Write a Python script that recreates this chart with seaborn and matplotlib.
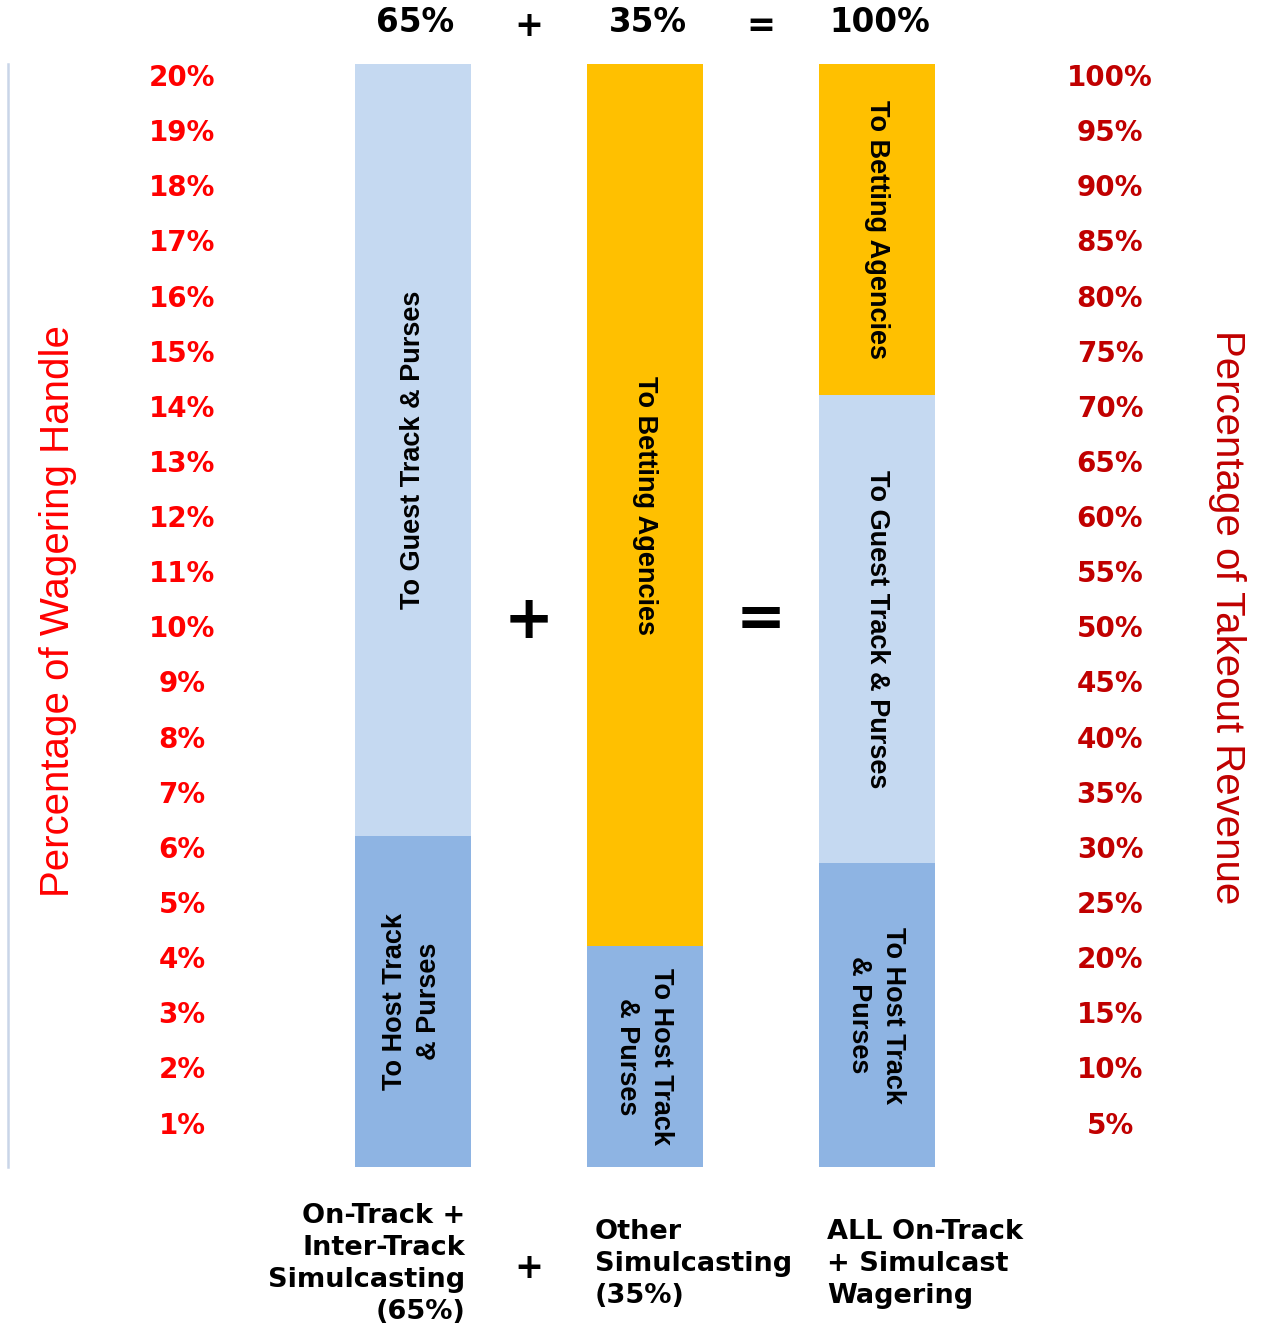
import matplotlib
matplotlib.use("Agg")
import matplotlib.pyplot as plt
import matplotlib.transforms as mtransforms
import pandas as pd
import seaborn as sns

# ---- data -------------------------------------------------------------
columns = ["On-Track + Inter-Track", "Other Simulcasting", "All Wagering"]

# share of wagering handle (left scale, %)
ontrack_segments = ["To Guest Track & Purses", "To Host Track\n& Purses"]
ontrack_values = [14, 6]          # top -> bottom
other_segments = ["To Betting Agencies", "To Host Track\n& Purses"]
other_values = [16, 4]

# share of takeout revenue (right scale, %)
all_segments = ["To Betting Agencies", "To Guest Track & Purses", "To Host Track\n& Purses"]
all_values = [30, 42.5, 27.5]

left_ticks = list(range(1, 21))
right_ticks = list(range(5, 101, 5))

top_labels = ["65%", "35%", "100%"]
bottom_labels = ["On-Track +\nInter-Track\nSimulcasting\n(65%)",
                 "Other\nSimulcasting\n(35%)",
                 "ALL On-Track\n+ Simulcast\nWagering"]

# ---- style --------------------------------------------------------------
sns.set_style("white")
plt.rcParams["text.color"] = "black"
LIGHT = "#C5D9F1"
MID = "#8EB4E3"
GOLD = "#FFC000"
seg_colors = {"To Guest Track & Purses": LIGHT,
              "To Host Track\n& Purses": MID,
              "To Betting Agencies": GOLD}

BOLD_WIDE = ["DejaVu Sans"]
NARROW = ["Liberation Sans", "DejaVu Sans"]
PLAIN = ["Liberation Sans", "DejaVu Sans"]

W, H = 1276, 1327
fig = plt.figure(figsize=(W / 100, H / 100), dpi=100)
ax = fig.add_axes([8 / W, (H - 1166.7) / H, (W - 8) / W, 1102.7 / H])
ax2 = ax.twinx()


def stack_table(col, segments, values):
    rows, bottom = [], 0.0
    for seg, val in zip(reversed(segments), reversed(values)):
        rows.append(dict(column=col, segment=seg, value=val,
                         bottom=bottom, top=bottom + val))
        bottom += val
    return rows


left_df = pd.DataFrame(stack_table(columns[0], ontrack_segments, ontrack_values)
                       + stack_table(columns[1], other_segments, other_values))
right_df = pd.DataFrame(stack_table(columns[2], all_segments, all_values))


def draw_stacks(df, axis):
    # tallest cumulative layers first, lower segments painted over them
    for _, r in df.sort_values("top", ascending=False).iterrows():
        sns.barplot(x=[r["column"]], y=[r["top"]], order=columns,
                    color=seg_colors[r["segment"]], width=0.5,
                    saturation=1, linewidth=0, ax=axis)


draw_stacks(left_df, ax)
draw_stacks(right_df, ax2)

ax.set_ylim(0, 20)
ax2.set_ylim(0, 100)
xlim = (-(412.5 - 8) / 232, (W - 412.5) / 232)
ax.set_xlim(*xlim)
ax2.set_xlim(*xlim)

for a in (ax, ax2):
    a.set_xlabel("")
    a.set_ylabel("")
    a.set_xticks([])
    a.set_yticks([])
    for s in a.spines.values():
        s.set_visible(False)
ax.spines["left"].set_visible(True)
ax.spines["left"].set_color("#C9D5E8")
ax.spines["left"].set_linewidth(1.8)

# ---- segment labels ------------------------------------------------------
col_pos = {c: i for i, c in enumerate(columns)}


def label_segments(df, axis, rotation):
    for _, r in df.iterrows():
        axis.text(col_pos[r["column"]], (r["bottom"] + r["top"]) / 2, r["segment"],
                  rotation=rotation, ha="center", va="center",
                  multialignment="center", fontsize=19.5, fontweight="bold",
                  family=NARROW, color="black", linespacing=1.4)


label_segments(left_df[left_df["column"] == columns[0]], ax, 90)
label_segments(left_df[left_df["column"] == columns[1]], ax, -90)
label_segments(right_df, ax2, -90)

# ---- scale labels --------------------------------------------------------
down = mtransforms.offset_copy(ax.get_yaxis_transform(), fig=fig, y=-14, units="dots")
for v in left_ticks:
    ax.text((182 - 8) / (W - 8), v, f"{v}%", transform=down, ha="center", va="center",
            color="#FF0000", fontsize=20, fontweight="bold", family=BOLD_WIDE)
down2 = mtransforms.offset_copy(ax2.get_yaxis_transform(), fig=fig, y=-14, units="dots")
for v in right_ticks:
    ax2.text((1110 - 8) / (W - 8), v, f"{v}%", transform=down2, ha="center", va="center",
             color="#C00000", fontsize=20, fontweight="bold", family=BOLD_WIDE)

fig.text(58 / W, 1 - 611 / H, "Percentage of Wagering Handle", rotation=90,
         ha="center", va="center", color="#FF0000", fontsize=29, family=PLAIN)
fig.text(1227 / W, 1 - 617 / H, "Percentage of Takeout Revenue", rotation=-90,
         ha="center", va="center", color="#C00000", fontsize=29, family=PLAIN)

# ---- equation row on top and operators -----------------------------------
xt = ax.get_xaxis_transform()
top_y = 1 + 41 / 1102.7
for i, t in enumerate(top_labels):
    ax.text(i + 3 / 232, top_y, t, transform=xt, ha="center", va="center",
            fontsize=23.5, fontweight="bold", family=BOLD_WIDE, color="black")
ax.text(0.5, top_y - 3 / 1102.7, "+", transform=xt, ha="center", va="center",
        fontsize=25, fontweight="bold", family=BOLD_WIDE, color="black")
ax.text(1.5, top_y - 3 / 1102.7, "=", transform=xt, ha="center", va="center",
        fontsize=25, fontweight="bold", family=BOLD_WIDE, color="black")

mid_y = (1166.7 - 621) / 1102.7
ax.text(0.5, mid_y, "+", transform=xt, ha="center", va="center",
        fontsize=43, fontweight="bold", family=BOLD_WIDE, color="black")
ax.text(1.5, mid_y, "=", transform=xt, ha="center", va="center",
        fontsize=43, fontweight="bold", family=BOLD_WIDE, color="black")

# ---- column captions below -----------------------------------------------
cap_y = -(1264 - 1166.7) / 1102.7
px = 1 / 232
cap_kw = dict(transform=xt, va="center", fontsize=19.5, fontweight="bold",
              family=BOLD_WIDE, linespacing=1.3, color="black")
ax.text(0 + (465 - 412.5) * px, cap_y, bottom_labels[0], ha="right",
        multialignment="right", **cap_kw)
ax.text(1 + (595 - 644.5) * px, cap_y, bottom_labels[1], ha="left",
        multialignment="left", **cap_kw)
ax.text(2 + (827 - 876.5) * px, cap_y, bottom_labels[2], ha="left",
        multialignment="left", **cap_kw)
ax.text(0.5, -(1268 - 1166.7) / 1102.7, "+", transform=xt, ha="center", va="center",
        fontsize=25, fontweight="bold", family=BOLD_WIDE, color="black")

fig.savefig("out.png", dpi=100)
